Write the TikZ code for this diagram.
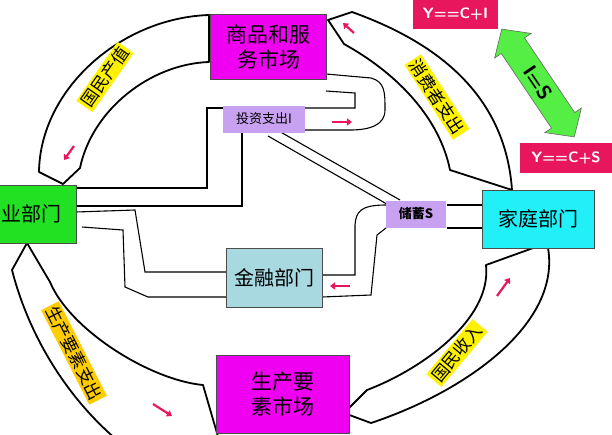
\documentclass[tikz,border=0pt]{standalone}
\usepackage{fontspec}
\setmainfont{Noto Sans CJK SC}
\usetikzlibrary{arrows.meta}
\definecolor{mag}{HTML}{F000F0}
\definecolor{rd}{HTML}{E8175D}
\definecolor{lav}{HTML}{C8A2F0}
\definecolor{grn}{HTML}{22E022}
\definecolor{cyn}{HTML}{22F0F8}
\definecolor{lblue}{HTML}{A8D8E0}
\definecolor{yel}{HTML}{FFF200}
\definecolor{org}{HTML}{FFCC00}
\definecolor{agr}{HTML}{55EE44}
\tikzset{
 band/.style={draw=black,line width=1.8pt,fill=white,line join=round},
 wire/.style={draw=black,line width=1.1pt},
 box/.style={draw=black!70,line width=0.6pt,inner sep=0pt,align=center},
 lbl/.style={inner sep=2pt,font=\fontsize{17}{17}\selectfont},
 eq/.style={fill=rd,text=white,inner sep=0pt,font=\sffamily\bfseries\fontsize{15}{15}\selectfont},
 parr/.style={draw=rd,line width=2.2pt,-{Triangle[length=5pt,width=7pt]}}
}
\begin{document}
\begin{tikzpicture}[x=1pt,y=-1pt]
\useasboundingbox (0,0) rectangle (612,434);
\clip (0,0) rectangle (612,434);
\fill[white] (0,0) rectangle (612,434);
% bands
\path[band] (209,15) .. controls (120,18) and (40,90) .. (39,172) -- (63,184) -- (80,168) .. controls (92,110) and (150,64) .. (209,62) -- cycle;
\path[band] (328,20) -- (352,12) .. controls (430,40) and (505,90) .. (512,190) -- (450,170) .. controls (440,120) and (400,75) .. (344,44) -- cycle;
\path[band] (27,243) -- (12,270) .. controls (30,340) and (70,400) .. (117,440) -- (219,440) -- (203,385) .. controls (150,380) and (70,330) .. (50,282) -- cycle;
\path[band] (344,413) -- (371,423) .. controls (470,390) and (565,320) .. (547,243) -- (486,265) .. controls (492,320) and (420,370) .. (367,390) -- cycle;
% wires
\draw[wire] (326,74) -- (371,78) .. controls (385,82) and (385,92) .. (385,110) .. controls (385,125) and (370,130) .. (350,130) -- (305,130);
\draw[wire] (326,91) -- (355,93) -- (355,108) -- (305,108);
\draw[wire] (224,108) -- (207,108) -- (207,188) -- (76,188);
\draw[wire] (242,132) -- (242,206) -- (76,206);
\draw[wire] (277,130) -- (400,200);
\draw[wire] (268,136) -- (392,207);
\draw[wire] (76,212) -- (135,210) -- (145,272) -- (226,272);
\draw[wire] (82,227) -- (123,230) -- (125,287) -- (148,297) -- (226,297);
\draw[wire] (386,205) .. controls (360,205) and (356,212) .. (355,225) -- (355,275) -- (322,275);
\draw[wire] (386,228) -- (377,235) -- (371,295) -- (322,297);
\draw[wire] (447,205) -- (483,205);
\draw[wire] (447,228) -- (483,228);
% boxes
\node[box,fill=mag,minimum width=116pt,minimum height=65pt,font=\fontsize{21}{25}\selectfont] (goods) at (268.5,46.5) {商品和服\\务市场};
\node[box,fill=mag,minimum width=133pt,minimum height=78pt,font=\fontsize{21}{25}\selectfont] (factor) at (282.5,394) {生产要\\素市场};
\node[box,fill=grn,minimum width=110pt,minimum height=58pt,font=\fontsize{20}{20}\selectfont] (firm) at (21,214) {企业部门};
\node[box,fill=cyn,minimum width=112pt,minimum height=58pt,font=\fontsize{20}{20}\selectfont] (home) at (538.5,219) {家庭部门};
\node[box,fill=lblue,minimum width=96pt,minimum height=59pt,font=\fontsize{20}{20}\selectfont] (fin) at (274,277.5) {金融部门};
\node[box,draw=none,fill=lav,minimum width=82pt,minimum height=27pt,font=\fontsize{13}{13}\selectfont] (inv) at (264,119) {投资支出I};
\node[box,draw=none,fill=lav,minimum width=60pt,minimum height=27pt,font=\bfseries\fontsize{13}{13}\selectfont] (sav) at (416,214) {储蓄S};
\node[eq,minimum width=85pt,minimum height=29pt] (eqI) at (455.5,14.5) {Y==C+I};
\node[eq,minimum width=92pt,minimum height=30pt] (eqS) at (566,158) {Y==C+S};
\begin{scope}[shift={(538,83)},x={(0.558pt,-0.829pt)},y={(-0.829pt,-0.558pt)}]
\draw[black!60,fill=agr,line width=0.6pt] (-65,0) -- (-45,22) -- (-45,14) -- (45,14) -- (45,22) -- (65,0) -- (45,-22) -- (45,-14) -- (-45,-14) -- (-45,-22) -- cycle;
\end{scope}
\node[rotate=-56,font=\sffamily\bfseries\fontsize{20}{20}\selectfont] (IStext) at (538,83) {I=S};
% labels
\node[lbl,fill=yel,rotate=55] (l1) at (105,77) {国民产值};
\node[lbl,fill=yel,rotate=-57] (l2) at (437,97) {消费者支出};
\node[lbl,fill=org,rotate=-63] (l3) at (74,353) {生产要素支出};
\node[lbl,fill=yel,rotate=50] (l4) at (457,353) {国民收入};
% pink arrows
\coordinate (a1s) at (74,146); \coordinate (a1e) at (64,160);
\coordinate (a2s) at (354,33); \coordinate (a2e) at (343,23);
\coordinate (a3s) at (332,122); \coordinate (a3e) at (352,122);
\coordinate (a4s) at (350,286); \coordinate (a4e) at (330,286);
\coordinate (a5s) at (153,404); \coordinate (a5e) at (172,416);
\coordinate (a6s) at (497,296); \coordinate (a6e) at (510,278);
\foreach \s/\e in {a1s/a1e,a2s/a2e,a3s/a3e,a4s/a4e,a5s/a5e,a6s/a6e}
  \draw[parr] (\s) -- (\e);
\end{tikzpicture}
\end{document}
